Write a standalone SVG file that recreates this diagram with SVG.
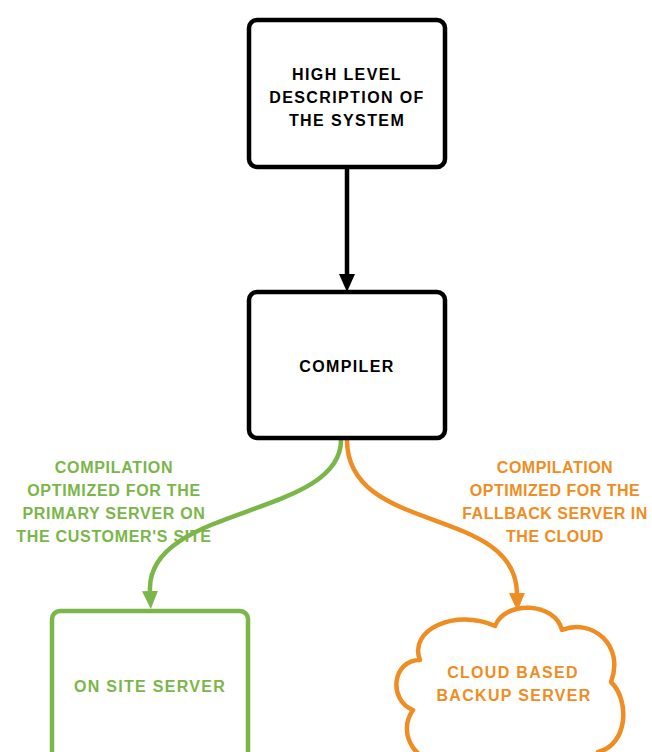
<svg xmlns="http://www.w3.org/2000/svg" width="652" height="752" viewBox="0 0 652 752">
  <style>
    .box { fill: #ffffff; stroke-width: 4.5; stroke-linejoin: round; }
    .blk { stroke: #000000; }
    .grn { stroke: #7ab648; }
    .org { stroke: #ef8d22; }
    .edge { fill: none; stroke-width: 4.5; }
    text { font-family: "Liberation Sans", Arial, sans-serif; font-size: 16px; text-anchor: middle; dominant-baseline: central; font-weight: bold; }
    .t-blk { fill: #000000; letter-spacing: 1.4px; }
    .t-grn { fill: #7ab648; letter-spacing: 1.3px; }
    .t-org { fill: #ef8d22; letter-spacing: 1.3px; }
    .l-grn { fill: #7ab648; letter-spacing: 0.7px; }
    .l-org { fill: #ef8d22; letter-spacing: 0.5px; }
  </style>
  <defs>
    <marker id="arrow-black" viewBox="0 0 18 16" refX="0" refY="8" markerWidth="18" markerHeight="16" markerUnits="userSpaceOnUse" orient="auto">
      <path d="M0,0 L18,8 L0,16 Z" fill="#000000"/>
    </marker>
    <marker id="arrow-green" viewBox="0 0 18 16" refX="0" refY="8" markerWidth="18" markerHeight="16" markerUnits="userSpaceOnUse" orient="auto">
      <path d="M0,0 L18,8 L0,16 Z" fill="#7ab648"/>
    </marker>
    <marker id="arrow-orange" viewBox="0 0 18 16" refX="0" refY="8" markerWidth="18" markerHeight="16" markerUnits="userSpaceOnUse" orient="auto">
      <path d="M0,0 L18,8 L0,16 Z" fill="#ef8d22"/>
    </marker>
  </defs>

  <rect width="652" height="752" fill="#ffffff"/>

  <!-- connectors -->
  <g id="connectors">
    <path class="edge blk" d="M347,167 L347,274" marker-end="url(#arrow-black)"/>
    <path class="edge grn" d="M341,440 C341,518 146,505 150,591" marker-end="url(#arrow-green)"/>
    <path class="edge org" d="M347,440 C347,535 515,505 517,593" marker-end="url(#arrow-orange)"/>
    <g id="label-primary">
      <text class="l-grn" x="114" y="467">COMPILATION</text>
      <text class="l-grn" x="114" y="490">OPTIMIZED FOR THE</text>
      <text class="l-grn" x="114" y="513">PRIMARY SERVER ON</text>
      <text class="l-grn" x="114" y="536">THE CUSTOMER'S SITE</text>
    </g>
    <g id="label-fallback">
      <text class="l-org" x="555" y="467">COMPILATION</text>
      <text class="l-org" x="555" y="490">OPTIMIZED FOR THE</text>
      <text class="l-org" x="555" y="513">FALLBACK SERVER IN</text>
      <text class="l-org" x="555" y="536">THE CLOUD</text>
    </g>
  </g>

  <!-- high level description -->
  <g id="node-description">
    <rect class="box blk" x="249" y="20" width="196" height="147" rx="8"/>
    <text class="t-blk" x="347" y="74">HIGH LEVEL</text>
    <text class="t-blk" x="347" y="97">DESCRIPTION OF</text>
    <text class="t-blk" x="347" y="120">THE SYSTEM</text>
  </g>

  <!-- compiler -->
  <g id="node-compiler">
    <rect class="box blk" x="249" y="292" width="196" height="146" rx="8"/>
    <text class="t-blk" x="347" y="366">COMPILER</text>
  </g>

  <!-- on site server -->
  <g id="node-onsite">
    <rect class="box grn" x="52" y="611" width="196" height="160" rx="8"/>
    <text class="t-grn" x="150" y="686">ON SITE SERVER</text>
  </g>

  <!-- cloud backup -->
  <g id="node-cloud">
    <path class="box org" d="M420,660 C408,630 455,608 495,626 C505,600 555,602 562,630 C592,618 625,645 611,682 C630,700 628,745 598,752 C590,785 470,790 445,760 C420,768 395,735 413,710 C388,700 392,660 420,660 Z"/>
    <text class="t-org" x="513" y="672">CLOUD BASED</text>
    <text class="t-org" x="514" y="695">BACKUP SERVER</text>
  </g>
</svg>
